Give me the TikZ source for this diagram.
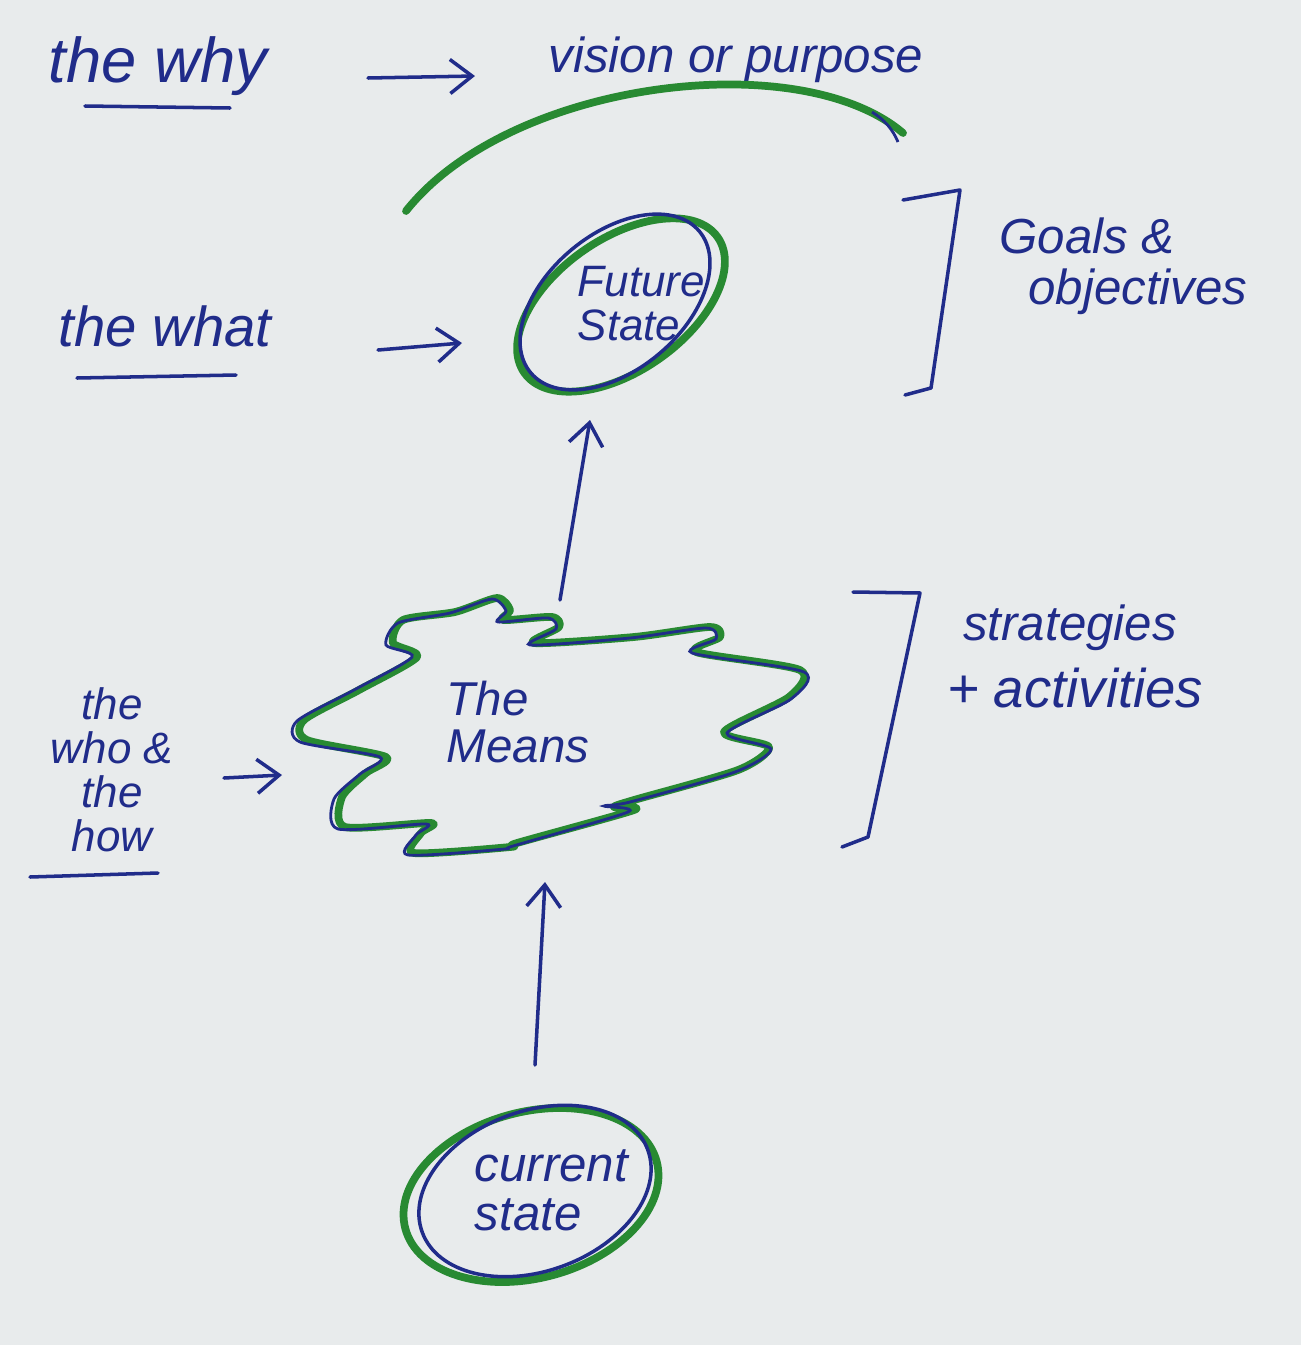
\documentclass[tikz,border=0pt]{standalone}
\usepackage{fontspec}
\setmainfont{Liberation Sans}
\usetikzlibrary{arrows.meta,shapes.geometric}
\definecolor{ink}{RGB}{32,44,138}
\definecolor{marker}{RGB}{40,138,50}
\definecolor{paper}{RGB}{232,235,236}
\begin{document}
\begin{tikzpicture}[x=0.01cm,y=-0.01cm,
  inkline/.style={draw=ink,line width=1pt,line cap=round,line join=round},
  arr/.style={inkline,-{Straight Barb[length=2.2mm,width=3.4mm,line width=1pt]}},
  markerline/.style={draw=marker,line width=2.2pt,line cap=round,line join=round},
  hand/.style={text=ink,font=\itshape\fontsize{#1}{#1}\selectfont,inner sep=0pt},
  handblock/.style={text=ink,font=\itshape\fontsize{#1}{#1}\selectfont,inner sep=0pt,align=left},
  greenoval/.style={draw=marker,line width=2.2pt,ellipse,inner sep=0pt},
  blueoval/.style={draw=ink,line width=1pt,ellipse,inner sep=0pt}
]
\fill[paper] (0,0) rectangle (1301,1345);
\useasboundingbox (0,0) rectangle (1301,1345);

% ---- the why ----
\node[hand=18] (why) at (158,66) {the why};
\coordinate (whyU1) at (85,106); \coordinate (whyU2) at (230,108);
\draw[inkline] (whyU1) -- (whyU2);
\coordinate (whyA) at (368,78); \coordinate (whyB) at (475,76);
\draw[arr] (whyA) -- (whyB);
\node[hand=14] (vision) at (736,60) {vision or purpose};
\coordinate (arcL) at (406,211); \coordinate (arcR) at (903,133);
\draw[markerline] (arcL) .. controls (510,80) and (800,45) .. (arcR);
\draw[ink,line width=0.8pt] (872,112) .. controls (885,120) and (893,130) .. (898,142);

% ---- the what ----
\node[hand=16] (what) at (165,326) {the what};
\coordinate (whatU1) at (77,378); \coordinate (whatU2) at (236,375);
\draw[inkline] (whatU1) -- (whatU2);
\coordinate (whatA) at (378,350); \coordinate (whatB) at (462,343);
\draw[arr] (whatA) -- (whatB);

% ---- future state ----
\node[greenoval,minimum width=2.36cm,minimum height=1.32cm,rotate=35] (future) at (621,305) {};
\node[blueoval,minimum width=2.2cm,minimum height=1.36cm,rotate=40] (futureB) at (615,302) {};
\node[handblock=12.5,anchor=west] (futuretext) at (577,304) {Future\\State};

% brackets & side labels
\coordinate (b1a) at (903,200); \coordinate (b1b) at (960,190);
\coordinate (b1c) at (931,388); \coordinate (b1d) at (905,395);
\draw[inkline] (b1a) -- (b1b) -- (b1c) -- (b1d);
\node[hand=14] (goals) at (1087,236) {Goals \&};
\node[hand=14] (objectives) at (1138,292) {objectives};

% ---- means cloud ----
\draw[markerline] plot[smooth cycle,tension=0.45] coordinates {
 (403,620) (455,612) (497,598) (510,610) (503,620) (552,617) (559,627) (534,643)
 (634,637) (710,627) (720,637) (696,652) (800,670) (789,697) (724,732) (769,747)
 (738,770) (634,800) (614,807) (634,810) (517,843) (510,847) (414,853) (421,833)
 (431,823) (345,827) (342,797) (366,773) (386,757) (307,740) (304,720) (359,690)
 (417,657) (393,643)};
\draw[ink,line width=0.8pt] plot[smooth cycle,tension=0.45] coordinates {
 (398,623) (450,613) (492,599) (506,611) (498,622) (548,618) (556,629) (530,645)
 (630,638) (706,628) (716,639) (692,653) (804,672) (791,699) (727,733) (771,749)
 (735,772) (630,802) (604,806) (628,812) (513,846) (505,849) (408,855) (416,835)
 (426,824) (338,829) (334,799) (360,774) (380,757) (300,742) (297,721) (354,690)
 (412,657) (386,645)};
\node[handblock=13.5,anchor=west] (means) at (446,722) {The\\Means};

\coordinate (meansTop) at (560,600); \coordinate (futureBot) at (590,420);
\draw[arr] (meansTop) -- (futureBot);

\coordinate (b2a) at (853,592); \coordinate (b2b) at (920,593);
\coordinate (b2c) at (868,837); \coordinate (b2d) at (842,847);
\draw[inkline] (b2a) -- (b2b) -- (b2c) -- (b2d);
\node[hand=14] (strategies) at (1070,628) {strategies};
\node[hand=15.5] (activities) at (1075,688) {+ activities};

% ---- the who & the how ----
\node[text=ink,font=\itshape\fontsize{12.5}{12.5}\selectfont,inner sep=0pt,align=center] (who) at (112,770) {the\\who \&\\the\\how};
\coordinate (whoU1) at (30,877); \coordinate (whoU2) at (158,873);
\draw[inkline] (whoU1) -- (whoU2);
\coordinate (whoA) at (224,778); \coordinate (whoB) at (282,775);
\draw[arr] (whoA) -- (whoB);

% ---- current state ----
\node[greenoval,minimum width=2.6cm,minimum height=1.66cm,rotate=15] (current) at (531,1195) {};
\node[blueoval,minimum width=2.4cm,minimum height=1.6cm,rotate=20] (currentB) at (535,1191) {};
\node[handblock=14,anchor=west] (currenttext) at (474,1190) {current\\state};

\coordinate (currentTop) at (535,1065); \coordinate (meansBot) at (545,882);
\draw[arr] (currentTop) -- (meansBot);
\end{tikzpicture}
\end{document}
